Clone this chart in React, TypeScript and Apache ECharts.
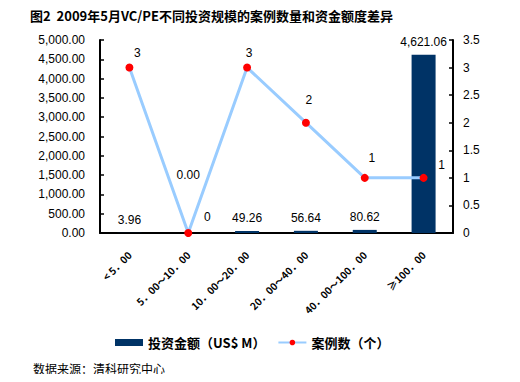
import React, { useEffect, useRef } from "react";
import * as echarts from "echarts";

const categories = ["< 5．00", "5．00～10．00", "10．00～20．00", "20．00～40．00", "40．00～100．00", "≥100．00"];
const amounts = [3.96, 0.0, 49.26, 56.64, 80.62, 4621.06];
const counts = [3, 0, 3, 2, 1, 1];
const countLabelOffsets: [number, number][] = [[8, -15], [19, -16], [2, -15], [3, -23], [7, -20], [18, -13]];
const amountLabelOffsets: [number, number][] = [[0, 0], [0, -45], [0, 0], [0, 0], [0, 0], [0, 0]];

const fmt = (v: number) =>
  v.toLocaleString("en-US", { minimumFractionDigits: 2, maximumFractionDigits: 2 });

export default function App() {
  const ref = useRef<HTMLDivElement>(null);
  useEffect(() => {
    if (!ref.current) return;
    const chart = echarts.init(ref.current, null, { renderer: "svg" });
    const cjk = "'Noto Sans CJK SC', sans-serif";
    const latin = "'Liberation Sans', Arial, sans-serif";
    chart.setOption({
      animation: false,
      backgroundColor: "#ffffff",
      title: {
        text: "图2  2009年5月VC/PE不同投资规模的案例数量和资金额度差异",
        left: 25,
        top: 4,
        textStyle: { fontFamily: cjk, fontSize: 13, fontWeight: "bold", color: "#000" },
      },
      legend: {
        bottom: 28,
        left: 110,
        itemGap: 12,
        itemWidth: 28,
        itemHeight: 7,
        textStyle: { fontFamily: cjk, fontSize: 13, fontWeight: "bold", color: "#000" },
        data: [
          { name: "投资金额（US$ M）", icon: "rect" },
          { name: "案例数（个）" },
        ],
      },
      grid: { left: 100, right: 67, top: 40, bottom: 149, containLabel: false },
      xAxis: {
        type: "category",
        data: categories,
        axisLine: { lineStyle: { color: "#000", width: 2 } },
        axisTick: { inside: true, length: 4, lineStyle: { color: "#000", width: 1.5 } },
        axisLabel: {
          rotate: 45,
          interval: 0,
          margin: 20,
          fontFamily: cjk,
          fontSize: 10,
          fontWeight: "bold",
          color: "#000",
        },
      },
      yAxis: [
        {
          type: "value",
          min: 0,
          max: 5000,
          interval: 500,
          axisLine: { show: true, lineStyle: { color: "#000", width: 2 } },
          axisTick: { show: true, inside: true, length: 4, lineStyle: { color: "#000", width: 1.5 } },
          splitLine: { show: false },
          axisLabel: { formatter: (v: number) => fmt(v), margin: 15, fontFamily: latin, fontSize: 12, color: "#000" },
        },
        {
          type: "value",
          min: 0,
          max: 3.5,
          interval: 0.5,
          position: "right",
          axisLine: { show: true, lineStyle: { color: "#000", width: 2 } },
          axisTick: { show: true, inside: true, length: 4, lineStyle: { color: "#000", width: 1.5 } },
          splitLine: { show: false },
          axisLabel: { margin: 10, fontFamily: latin, fontSize: 12, color: "#000" },
        },
      ],
      series: [
        {
          name: "投资金额（US$ M）",
          type: "bar",
          yAxisIndex: 0,
          barWidth: 24,
          itemStyle: { color: "#003366" },
          data: amounts.map((v, i) => ({
            value: v,
            label: { offset: amountLabelOffsets[i] },
          })),
          label: {
            show: true,
            position: "top",
            distance: 7,
            formatter: (p: any) => fmt(p.value),
            fontFamily: latin,
            fontSize: 12,
            color: "#000",
          },
        },
        {
          name: "案例数（个）",
          type: "line",
          yAxisIndex: 1,
          symbol: "circle",
          symbolSize: 8,
          lineStyle: { color: "#99CCFF", width: 3 },
          itemStyle: { color: "#FF0000" },
          data: counts.map((v, i) => ({
            value: v,
            label: { offset: countLabelOffsets[i] },
          })),
          label: {
            show: true,
            position: "inside",
            fontFamily: latin,
            fontSize: 12,
            color: "#000",
          },
        },
      ],
      graphic: [
        {
          type: "text",
          left: 33,
          top: 362,
          style: { text: "数据来源：清科研究中心", font: "12px 'Noto Sans CJK SC', sans-serif", fill: "#000" },
        },
      ],
    });
    return () => chart.dispose();
  }, []);
  return <div ref={ref} style={{ width: 520, height: 382, margin: -8 }} />;
}
